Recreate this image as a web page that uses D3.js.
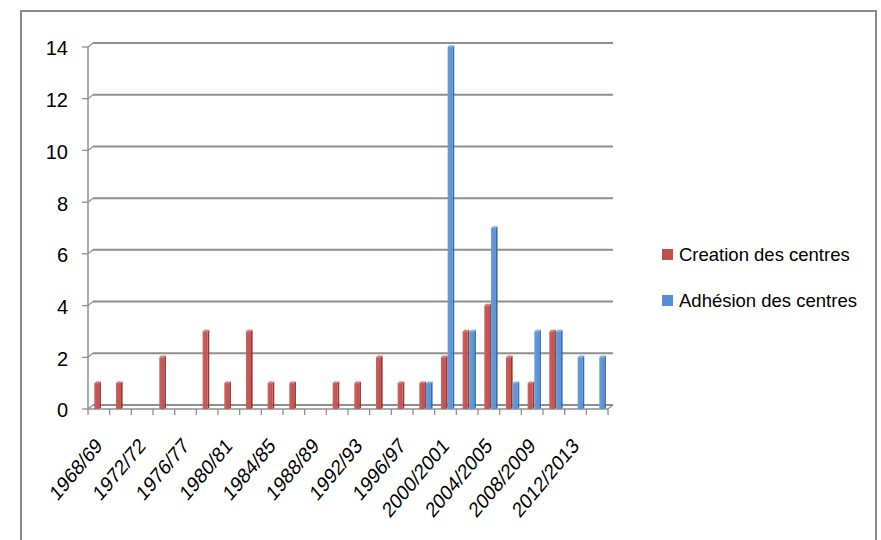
<!DOCTYPE html>
<html>
<head>
<meta charset="utf-8">
<script src="https://cdn.jsdelivr.net/npm/d3@7"></script>
<style>
  body { margin: 0; background: #fff; }
  text { fill: #000; font-family: "Liberation Sans", Arial, sans-serif; }
</style>
</head>
<body>
<svg id="chart" width="881" height="540"></svg>
<script>
// Academic years (every other one carries a label on the axis)
const categories = ["1968/69","1970/71","1972/72","1974/75","1976/77","1978/79","1980/81","1982/83",
  "1984/85","1986/87","1988/89","1990/91","1992/93","1994/95","1996/97","1998/99",
  "2000/2001","2002/2003","2004/2005","2006/2007","2008/2009","2010/2011","2012/2013","2014/2015"];
const creation = [1,1,0,2,0,3,1,3,1,1,0,1,1,2,1,1,2,3,4,2,1,3,0,0];
const adhesion = [0,0,0,0,0,0,0,0,0,0,0,0,0,0,0,1,14,3,7,1,3,3,2,2];
const seriesNames = ["Creation des centres", "Adhésion des centres"];
const yTicks = [0, 2, 4, 6, 8, 10, 12, 14];

const svg = d3.select("#chart");

// outer chart frame
svg.append("rect").attr("x", 21).attr("y", 11).attr("width", 855).attr("height", 560)
  .attr("fill", "none").attr("stroke", "#8a8a8a").attr("stroke-width", 2);

const plotLeft = 88, plotRight = 608, plotBase = 409, plotTop = 47;
const depthX = 5, depthY = -4;

const x0 = d3.scaleBand().domain(categories).range([plotLeft, plotRight]).padding(0);
const x1 = d3.scaleBand().domain(seriesNames).range([6.3, 19.6]).padding(0);
const y = d3.scaleLinear().domain([0, 14]).range([plotBase, plotTop]);

const defs = svg.append("defs");
function grad(id, c1, c2) {
  const g = defs.append("linearGradient").attr("id", id).attr("x1", "0").attr("x2", "1").attr("y1", "0").attr("y2", "0");
  g.append("stop").attr("offset", "0").attr("stop-color", c1);
  g.append("stop").attr("offset", "1").attr("stop-color", c2);
}
grad("gRed", "#d0605d", "#c0504d");
grad("gBlue", "#6a9fe0", "#558ed5");

const palette = {
  "Creation des centres": { front: "url(#gRed)", side: "#8e3a38", top: "#d87a77", key: "#c0504d" },
  "Adhésion des centres": { front: "url(#gBlue)", side: "#3b6aa8", top: "#86b2e8", key: "#558ed5" }
};

const grid = svg.append("g");
const gridColor = "#8e8e8e";

// back-wall gridlines with their short diagonal from the front axis
yTicks.forEach(t => {
  const yy = y(t);
  grid.append("line").attr("x1", plotLeft + depthX).attr("x2", plotRight + depthX)
    .attr("y1", yy + depthY).attr("y2", yy + depthY)
    .attr("stroke", gridColor).attr("stroke-width", 2);
  grid.append("line").attr("x1", plotLeft).attr("y1", yy).attr("x2", plotLeft + depthX).attr("y2", yy + depthY)
    .attr("stroke", gridColor).attr("stroke-width", 1.3);
  grid.append("line").attr("x1", plotLeft - 6).attr("x2", plotLeft).attr("y1", yy).attr("y2", yy)
    .attr("stroke", gridColor).attr("stroke-width", 1.3);
});

// value axis
grid.append("line").attr("x1", plotLeft).attr("x2", plotLeft).attr("y1", y(0)).attr("y2", y(14))
  .attr("stroke", gridColor).attr("stroke-width", 1.5);

// front edge of the floor
grid.append("line").attr("x1", plotLeft).attr("x2", plotRight).attr("y1", plotBase).attr("y2", plotBase)
  .attr("stroke", gridColor).attr("stroke-width", 1.5);
grid.append("line").attr("x1", plotRight).attr("y1", plotBase).attr("x2", plotRight + depthX).attr("y2", plotBase + depthY)
  .attr("stroke", gridColor).attr("stroke-width", 1.3);

// category tick marks
const bounds = categories.map(c => x0(c)).concat([plotRight]);
grid.selectAll(".xt").data(bounds).join("line")
  .attr("x1", d => d).attr("x2", d => d).attr("y1", plotBase).attr("y2", plotBase + 6)
  .attr("stroke", gridColor).attr("stroke-width", 1.3);

// y tick labels
svg.selectAll(".yl").data(yTicks).join("text")
  .attr("x", 68).attr("y", d => y(d)).attr("dy", "0.42em")
  .attr("text-anchor", "end").attr("font-size", 20).text(d => d);

// bars drawn as small prisms
const rows = [];
categories.forEach((c, i) => {
  rows.push({ c, s: seriesNames[0], v: creation[i] });
  rows.push({ c, s: seriesNames[1], v: adhesion[i] });
});
const d = 1.7;
const fw = x1.bandwidth() - d;
const bars = svg.append("g").selectAll("g").data(rows.filter(r => r.v > 0)).join("g");
bars.each(function (r) {
  const g = d3.select(this);
  const bx = x0(r.c) + x1(r.s), by = y(r.v), b0 = y(0);
  const p = palette[r.s];
  g.append("polygon").attr("points", [[bx + fw, by], [bx + fw + d, by - d], [bx + fw + d, b0 - d], [bx + fw, b0]].join(" "))
    .attr("fill", p.side);
  g.append("polygon").attr("points", [[bx, by], [bx + d, by - d], [bx + fw + d, by - d], [bx + fw, by]].join(" "))
    .attr("fill", p.top);
  g.append("rect").attr("x", bx).attr("y", by).attr("width", fw).attr("height", b0 - by).attr("fill", p.front);
});

// category labels, every other year, slanted and slightly condensed
const shown = categories.filter((c, i) => i % 2 === 0);
svg.selectAll(".xl").data(shown).join("text")
  .attr("transform", c => `translate(${x0(c) + x0.bandwidth() / 2 + 4.5},${447}) scale(0.84,1) rotate(-45)`)
  .attr("text-anchor", "end").attr("font-size", 21.5).text(c => c);

// legend
const lg = svg.append("g");
seriesNames.forEach((s, i) => {
  const ly = 254 + i * 46;
  lg.append("rect").attr("x", 662).attr("y", ly - 5).attr("width", 11).attr("height", 11).attr("fill", palette[s].key);
  lg.append("text").attr("x", 679).attr("y", ly).attr("dy", "0.36em").attr("font-size", 18.5).text(s);
});
</script>
</body>
</html>
